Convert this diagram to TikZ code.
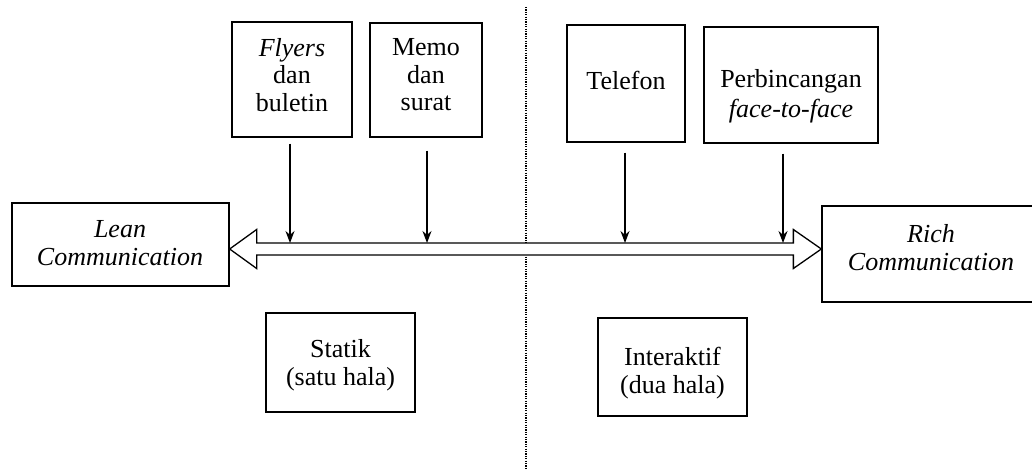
\documentclass[tikz,border=0pt]{standalone}
\usepackage{fontspec}
\setmainfont{Liberation Serif}
\usetikzlibrary{calc,arrows.meta}
\begin{document}
\begin{tikzpicture}[x=1pt,y=-1pt,
  box/.style={draw, line width=1.3pt, inner sep=0pt, rectangle},
  txt/.style={align=center, inner sep=0pt, font=\fontsize{26}{27.5}\selectfont},
  down/.style={line width=1.2pt, -{Stealth[length=12pt,width=9pt]}},
  big/.style={draw, line width=1.3pt, fill=white, line join=miter},
  sep/.style={line width=1.5pt, dash pattern=on 1.2pt off 1.2pt}]
\useasboundingbox (0,0) rectangle (1032,470);
% separator
\coordinate (dtop) at (526,7);
\coordinate (dbot) at (526,470);
\draw[sep] (dtop) -- (dbot);
% boxes
\node[box, minimum width=217pt, minimum height=83pt] (lean) at (120.5,244.5) {};
\node[box, minimum width=212pt, minimum height=96pt] (rich) at (928,254) {};
\node[box, minimum width=120pt, minimum height=115pt] (flyers) at (292,79.5) {};
\node[box, minimum width=112pt, minimum height=114pt] (memo) at (426,80) {};
\node[box, minimum width=118pt, minimum height=117pt] (telefon) at (626,83.5) {};
\node[box, minimum width=174pt, minimum height=116pt] (perb) at (791,85) {};
\node[box, minimum width=149pt, minimum height=99pt] (statik) at (340.5,362.5) {};
\node[box, minimum width=149pt, minimum height=98pt] (inter) at (672.5,367) {};
% texts
\node[txt] (leanT) at (120,243) {\textit{Lean}\\\textit{Communication}};
\node[txt] (richT) at (931,247.5) {\textit{Rich}\\\textit{Communication}};
\node[txt] (flyersT) at (292,75) {\textit{Flyers}\\dan\\buletin};
\node[txt] (memoT) at (426,75) {Memo\\dan\\surat};
\node[txt] (telefonT) at (626,80) {Telefon};
\node[txt] (perbT) at (791,96) {Perbincangan\\[2pt]\textit{face-to-face}};
\node[txt] (statikT) at (340.5,365) {Statik\\(satu hala)};
\node[txt] (interT) at (672.5,373) {Interaktif\\(dua hala)};
% big double arrow
\coordinate (ay) at (0,249);
\coordinate (L) at (lean.east |- ay);
\coordinate (R) at (rich.west |- ay);
\draw[big] (L) -- ++(27,-19.5) -- ++(0,13.5) -- ($(R)+(-28,-6)$) -- ++(0,-13.5) -- (R)
  -- ++(-28,19.5) -- ++(0,-13.5) -- ($(L)+(27,6)$) -- ++(0,13.5) -- cycle;
% down arrows
\coordinate (fa) at (290,243);
\coordinate (ma) at (427,243);
\coordinate (ta) at (625,243);
\coordinate (pa) at (783,243);
\draw[down] ($(fa |- flyers.south)+(0,6)$) -- (fa);
\draw[down] ($(ma |- memo.south)+(0,13)$) -- (ma);
\draw[down] ($(ta |- telefon.south)+(0,10)$) -- (ta);
\draw[down] ($(pa |- perb.south)+(0,10)$) -- (pa);
\end{tikzpicture}
\end{document}
